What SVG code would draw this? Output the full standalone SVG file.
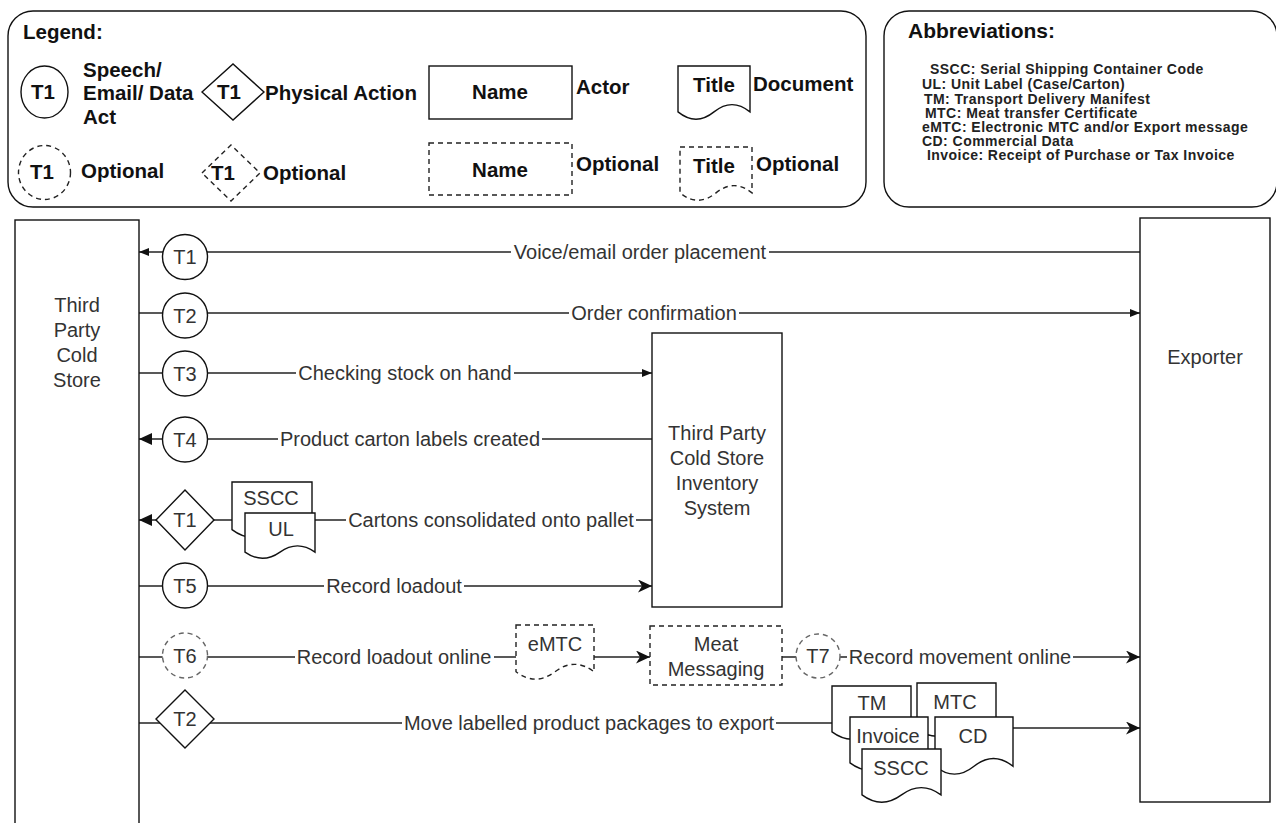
<svg xmlns="http://www.w3.org/2000/svg" width="1276" height="823" viewBox="0 0 1276 823">
<style>
text{font-family:"Liberation Sans",Arial,Helvetica,sans-serif}
.lg{font-size:20.5px;font-weight:bold;fill:#111}
.ab{font-size:14px;font-weight:bold;fill:#222;letter-spacing:0.45px}
.t{font-size:20px;fill:#333;text-anchor:middle}
.c{text-anchor:middle}
.s{fill:#fff;stroke:#111;stroke-width:1.4}
.d{fill:#fff;stroke:#222;stroke-width:1.4;stroke-dasharray:5 4}
.dg{fill:#fff;stroke:#666;stroke-width:1.4;stroke-dasharray:5 4}
.ln{fill:none;stroke:#222;stroke-width:1.5}
.bg{fill:#fff}
</style>
<defs>
<marker id="blk" markerWidth="10" markerHeight="8" refX="10" refY="4" orient="auto" markerUnits="userSpaceOnUse"><path d="M0,0 L10,4 L0,8 z" fill="#111"/></marker>
<marker id="blk2" markerWidth="13" markerHeight="12" refX="13" refY="6" orient="auto" markerUnits="userSpaceOnUse"><path d="M0,0 L13,6 L0,12 z" fill="#111"/></marker>
<marker id="cls" markerWidth="14" markerHeight="13" refX="14" refY="6.5" orient="auto" markerUnits="userSpaceOnUse"><path d="M0,0 L14,6.5 L0,13 L4,6.5 z" fill="#111"/></marker>
</defs>
<rect width="1276" height="823" fill="#fff"/>

<g id="legend">
<rect x="8" y="11" width="858" height="196" rx="25" class="s"/>
<text x="23" y="39" class="lg">Legend:</text>
<ellipse cx="44.5" cy="92" rx="23.5" ry="26" class="s"/>
<text x="43" y="99" class="lg c">T1</text>
<text x="83" y="77" class="lg">Speech/</text>
<text x="83" y="100" class="lg">Email/ Data</text>
<text x="83" y="124" class="lg">Act</text>
<path d="M202,92 L233,64 L264,92 L233,120 Z" class="s"/>
<text x="229" y="99" class="lg c">T1</text>
<text x="265" y="100" class="lg">Physical Action</text>
<rect x="429" y="66" width="143" height="53" class="s"/>
<text x="500" y="99" class="lg c">Name</text>
<text x="576" y="94" class="lg">Actor</text>
<path d="M678,66 H750 V111.9 Q732,97.3 714,111.9 Q696,126.5 678,111.9 Z" class="s"/>
<text x="714" y="92" class="lg c">Title</text>
<text x="753" y="91" class="lg">Document</text>
<ellipse cx="44.5" cy="172.5" rx="26" ry="27" class="d"/>
<text x="42" y="179" class="lg c">T1</text>
<text x="81" y="178" class="lg">Optional</text>
<path d="M202,173 L231,145 L260,173 L231,201 Z" class="d"/>
<text x="223" y="180" class="lg c">T1</text>
<text x="263" y="180" class="lg">Optional</text>
<rect x="429" y="143" width="143" height="52" class="d"/>
<text x="500" y="177" class="lg c">Name</text>
<text x="576" y="171" class="lg">Optional</text>
<path d="M680,147 H752 V192.9 Q734,178.3 716,192.9 Q698,207.5 680,192.9 Z" class="d"/>
<text x="714" y="173" class="lg c">Title</text>
<text x="756" y="171" class="lg">Optional</text>
</g>

<g id="abbreviations">
<rect x="884" y="11" width="393" height="196" rx="25" class="s"/>
<text x="908" y="38" class="lg" style="font-size:21px">Abbreviations:</text>
<text x="930" y="74" class="ab">SSCC: Serial Shipping Container Code</text>
<text x="922" y="89" class="ab">UL: Unit Label (Case/Carton)</text>
<text x="924" y="104" class="ab">TM: Transport Delivery Manifest</text>
<text x="925" y="118" class="ab">MTC: Meat transfer Certificate</text>
<text x="922" y="132" class="ab">eMTC: Electronic MTC and/or Export message</text>
<text x="922" y="146" class="ab">CD: Commercial Data</text>
<text x="927" y="160" class="ab">Invoice: Receipt of Purchase or Tax Invoice</text>
</g>

<g id="connectors">
<path d="M1140,252 H139" class="ln" marker-end="url(#blk)"/>
<path d="M139,313 H1140" class="ln" marker-end="url(#blk)"/>
<path d="M139,373 H652" class="ln" marker-end="url(#blk)"/>
<path d="M652,439 H139" class="ln" marker-end="url(#blk2)"/>
<path d="M652,520 H139" class="ln" marker-end="url(#blk2)"/>
<path d="M139,586 H652" class="ln" marker-end="url(#cls)"/>
<path d="M139,657 H516" class="ln"/>
<path d="M594,657 H650" class="ln" marker-end="url(#cls)"/>
<path d="M782,657 H796" class="ln"/>
<path d="M840,657 H1140" class="ln" marker-end="url(#cls)"/>
<path d="M139,723 H832" class="ln"/>
<path d="M1013,728 H1140" class="ln" marker-end="url(#cls)"/>
<path d="M928,735 H935" class="ln"/>
<rect x="511" y="241" width="258" height="22" class="bg"/>
<text x="640" y="259" class="t">Voice/email order placement</text>
<rect x="569" y="302" width="170" height="22" class="bg"/>
<text x="654" y="320" class="t">Order confirmation</text>
<rect x="296" y="362" width="218" height="22" class="bg"/>
<text x="405" y="380" class="t">Checking stock on hand</text>
<rect x="278" y="428" width="264" height="22" class="bg"/>
<text x="410" y="446" class="t">Product carton labels created</text>
<rect x="346" y="509" width="290" height="22" class="bg"/>
<text x="491" y="527" class="t">Cartons consolidated onto pallet</text>
<rect x="324" y="575" width="140" height="22" class="bg"/>
<text x="394" y="593" class="t">Record loadout</text>
<rect x="295" y="646" width="199" height="22" class="bg"/>
<text x="394" y="664" class="t">Record loadout online</text>
<rect x="847" y="646" width="226" height="22" class="bg"/>
<text x="960" y="664" class="t">Record movement online</text>
<rect x="402" y="712" width="374" height="22" class="bg"/>
<text x="589" y="730" class="t">Move labelled product packages to export</text>
</g>

<g id="third-party-cold-store">
<rect x="15" y="220" width="124" height="620" class="s"/>
<text x="77" y="312" class="t">Third</text>
<text x="77" y="337" class="t">Party</text>
<text x="77" y="362" class="t">Cold</text>
<text x="77" y="387" class="t">Store</text>
</g>
<g id="exporter">
<rect x="1140" y="218" width="130" height="584" class="s"/>
<text x="1205" y="364" class="t">Exporter</text>
</g>
<g id="inventory-system">
<rect x="652" y="333" width="130" height="274" class="s"/>
<text x="717" y="440" class="t">Third Party</text>
<text x="717" y="465" class="t">Cold Store</text>
<text x="717" y="490" class="t">Inventory</text>
<text x="717" y="515" class="t">System</text>
</g>

<g id="t1-speech"><circle cx="185" cy="257" r="22.5" class="s"/><text x="185" y="264" class="t">T1</text></g>
<g id="t2-speech"><circle cx="185" cy="315.5" r="22.5" class="s"/><text x="185" y="322.5" class="t">T2</text></g>
<g id="t3-speech"><circle cx="185" cy="373.5" r="22.5" class="s"/><text x="185" y="380.5" class="t">T3</text></g>
<g id="t4-speech"><circle cx="185" cy="439.5" r="22.5" class="s"/><text x="185" y="446.5" class="t">T4</text></g>
<g id="t1-physical"><path d="M156,520 L185,490 L214,520 L185,550 Z" class="s"/><text x="185" y="527" class="t">T1</text></g>
<g id="doc-sscc-1"><path d="M232,482 H312 V529.6 Q292,514.5 272,529.6 Q252,544.7 232,529.6 Z" class="s"/><text x="271" y="505" class="t">SSCC</text></g>
<g id="doc-ul"><path d="M245,513 H315 V552.1 Q297.5,539.7 280,552.1 Q262.5,564.5 245,552.1 Z" class="s"/><text x="281" y="536" class="t">UL</text></g>
<g id="t5-speech"><circle cx="185" cy="585.5" r="22.5" class="s"/><text x="185" y="592.5" class="t">T5</text></g>
<g id="t6-optional"><circle cx="185" cy="655.5" r="22.5" class="dg"/><text x="185" y="662.5" class="t">T6</text></g>
<g id="doc-emtc"><path d="M516,625 H594 V671.75 Q574.5,656.9 555,671.75 Q535.5,686.6 516,671.75 Z" class="d"/><text x="555" y="651" class="t">eMTC</text></g>
<g id="meat-messaging"><rect x="650" y="626" width="132" height="59" class="d"/><text x="716" y="651" class="t">Meat</text><text x="716" y="676" class="t">Messaging</text></g>
<g id="t7-optional"><circle cx="818" cy="656" r="22" class="dg"/><text x="818" y="663" class="t">T7</text></g>
<g id="t2-physical"><path d="M156,719 L185,690 L214,719 L185,748 Z" class="s"/><text x="185" y="726" class="t">T2</text></g>
<g id="doc-tm"><path d="M832,686 H911 V731.9 Q891.25,717.3 871.5,731.9 Q851.75,746.5 832,731.9 Z" class="s"/><text x="872" y="710" class="t">TM</text></g>
<g id="doc-mtc"><path d="M917,683 H996 V728.9 Q976.25,714.3 956.5,728.9 Q936.75,743.5 917,728.9 Z" class="s"/><text x="955" y="709" class="t">MTC</text></g>
<g id="doc-invoice"><path d="M850,717 H928 V762.9 Q908.5,748.3 889,762.9 Q869.5,777.5 850,762.9 Z" class="s"/><text x="888" y="743" class="t">Invoice</text></g>
<g id="doc-cd"><path d="M935,717 H1013 V766.3 Q993.5,750.6 974,766.3 Q954.5,782 935,766.3 Z" class="s"/><text x="973" y="743" class="t">CD</text></g>
<g id="doc-sscc-2"><path d="M862,749 H941 V794.9 Q921.25,780.3 901.5,794.9 Q881.75,809.5 862,794.9 Z" class="s"/><text x="901" y="775" class="t">SSCC</text></g>
</svg>
